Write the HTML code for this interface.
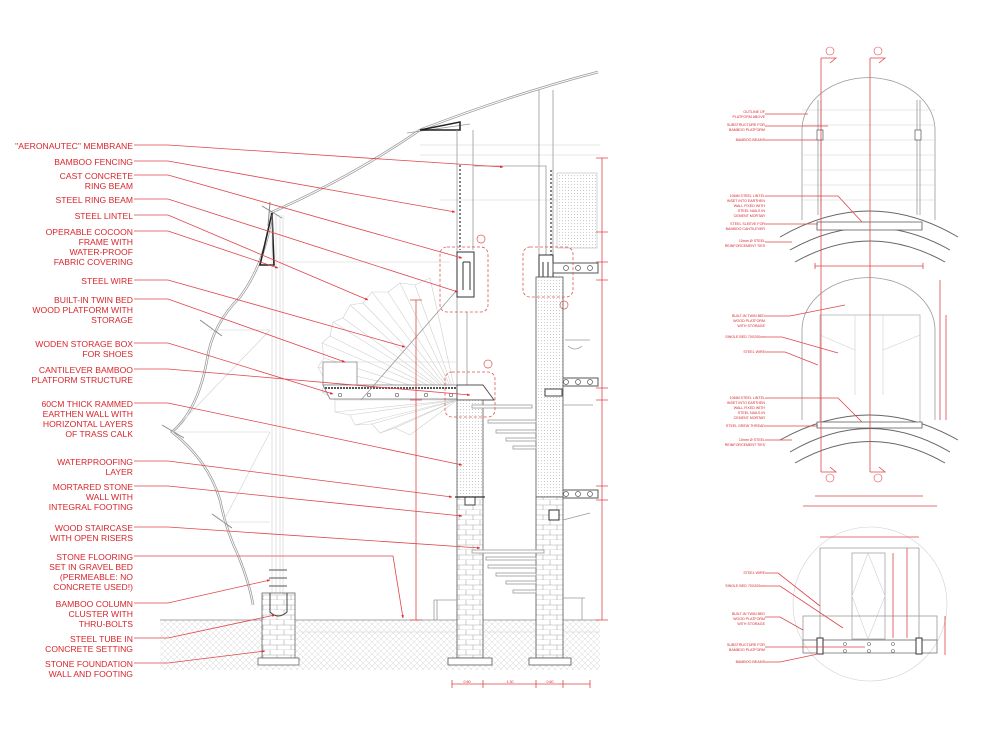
<!DOCTYPE html>
<html><head><meta charset="utf-8"><style>
html,body{margin:0;padding:0;background:#fff}
svg{display:block}
.l{font-family:"Liberation Sans",sans-serif;font-size:8.6px;fill:#d8252b;text-anchor:end}
.s{font-family:"Liberation Sans",sans-serif;font-size:3.6px;fill:#d8252b;text-anchor:end}
.r{stroke:#e0454a;stroke-width:0.8;fill:none}
.g{stroke:#9a9a9a;stroke-width:0.8;fill:none}
.gl{stroke:#cfcfcf;stroke-width:0.6;fill:none}
.k{stroke:#444;stroke-width:1;fill:none}
</style></head><body>
<svg width="1000" height="733" viewBox="0 0 1000 733" xmlns="http://www.w3.org/2000/svg">
<defs>
<pattern id="hat" width="6" height="6" patternUnits="userSpaceOnUse"><path d="M0 6L6 0M0 0L6 6" stroke="#d6d6d6" stroke-width="0.5"/></pattern>
<pattern id="brk" width="14" height="10" patternUnits="userSpaceOnUse"><rect width="14" height="10" fill="#fff"/><path d="M0 5H14M0 10H14M4 0V5M11 5V10" stroke="#aaa" stroke-width="0.6"/></pattern>
<pattern id="dot" width="3" height="3" patternUnits="userSpaceOnUse"><rect width="3" height="3" fill="#fff"/><circle cx="1.5" cy="1.5" r="0.5" fill="#bbb"/></pattern>
<marker id="a" viewBox="0 0 10 10" refX="9" refY="5" markerWidth="5" markerHeight="4" orient="auto"><path d="M0 1L10 5L0 9z" fill="#e0252b"/></marker>
</defs>

<!-- ground -->
<rect x="160" y="620" width="440" height="50" fill="url(#hat)"/>
<line x1="160" y1="620" x2="600" y2="620" stroke="#888" stroke-width="0.8"/>
<line x1="300" y1="632" x2="600" y2="632" class="gl"/>

<!-- spiral stair fan -->
<g class="gl">
<path d="M430 278 L415 285 L400 283 L388 292 L372 292 L363 303 L350 305 L343 318 L333 322 L330 336 L322 343 L324 358 L318 367 L325 380 L322 392 L335 400 L335 412 L350 415 L355 425 L372 424 L380 433 L395 428 L410 435"/>
<path d="M457 400L430 278M457 400L400 283M457 400L372 292M457 400L350 305M457 400L333 322M457 400L322 343M457 400L318 367M457 400L322 392M457 400L335 412M457 400L355 425M457 400L380 433M457 400L410 435M457 400L415 285M457 400L388 292M457 400L363 303M457 400L343 318M457 400L330 336M457 400L324 358M457 400L325 380M457 400L335 400M457 400L350 415M457 400L372 424M457 400L395 428"/>
</g>

<!-- roof membrane -->
<path d="M270 213 Q350 178 420 130 Q510 95 598 72" stroke="#999" stroke-width="2.5" fill="none"/>
<path d="M270 213 Q350 178 420 130 Q510 95 598 72" stroke="#fff" stroke-width="1" fill="none"/>
<path d="M407 133 L470 124" class="g"/>
<path d="M420 130 L460 122 L460 130 Z" stroke="#222" stroke-width="1.5" fill="none"/>
<!-- cocoon -->
<path id="cc" d="M272 215 Q264 265 240 297 Q212 325 207 360 Q198 410 172 432 Q208 460 220 500 Q226 530 238 555 Q250 585 253 605" stroke="#999" stroke-width="2.5" fill="none"/>
<path d="M272 215 Q264 265 240 297 Q212 325 207 360 Q198 410 172 432 Q208 460 220 500 Q226 530 238 555 Q250 585 253 605" stroke="#fff" stroke-width="1" fill="none"/>
<path d="M272 213 L260 265 L274 265 Z" stroke="#222" stroke-width="1.6" fill="none"/>
<path d="M262 206L282 218M270 202L268 226M200 320L222 336M162 425L184 438M212 514L232 528" stroke="#888" stroke-width="1"/>
<path d="M172 432H270M223 522H270M210 330H270M172 432L270 330M223 522L270 432" class="gl"/>
<!-- bamboo column -->
<path d="M272 215V595M276 215V595M280 215V595M283 215V595" class="gl"/>
<path d="M269 570H287M269 578H287M269 586H287" stroke="#555" stroke-width="1"/>
<rect x="262" y="593" width="33" height="65" fill="url(#brk)" stroke="#666" stroke-width="0.8"/>
<path d="M270 593V612Q278 620 287 612V593" class="k"/>
<rect x="258" y="658" width="41" height="7" fill="#fff" stroke="#666" stroke-width="0.8"/>

<!-- upper frames -->
<path d="M420 145H600M420 155H600M440 200H560M280 262H450" class="gl"/>
<!-- column1 -->
<path d="M457 130V400M473 130V250M467 312V385" class="g"/>
<path d="M460 165V250" stroke="#333" stroke-width="1.2" stroke-dasharray="2 2"/>
<path d="M474 166H546V265" class="g"/>
<rect x="457" y="252" width="17" height="45" fill="#fff" stroke="#333" stroke-width="1"/>
<path d="M463 262V290M470 262V290M463 262H470" stroke="#333" stroke-width="1"/>
<!-- column2 -->
<path d="M539 90V265M553 90V265" class="g"/>
<path d="M551 170V255" stroke="#333" stroke-width="1.2" stroke-dasharray="2 2"/>
<rect x="557" y="173" width="40" height="75" fill="url(#dot)" stroke="#bbb" stroke-width="0.6"/>
<rect x="539" y="255" width="14" height="22" fill="#fff" stroke="#333"/>
<path d="M543 262V285M548 262V285" stroke="#333"/>
<rect x="553" y="263" width="45" height="10" fill="#fff" stroke="#555"/>
<g fill="none" stroke="#555" stroke-width="0.7"><circle cx="566" cy="268" r="2.5"/><circle cx="578" cy="268" r="2.5"/><circle cx="590" cy="268" r="2.5"/></g>
<rect x="553" y="378" width="45" height="8" fill="#fff" stroke="#555"/>
<g fill="none" stroke="#555" stroke-width="0.7"><circle cx="566" cy="382" r="2.5"/><circle cx="578" cy="382" r="2.5"/><circle cx="590" cy="382" r="2.5"/></g>
<rect x="553" y="490" width="45" height="8" fill="#fff" stroke="#555"/>
<g fill="none" stroke="#555" stroke-width="0.7"><circle cx="566" cy="494" r="2.5"/><circle cx="578" cy="494" r="2.5"/><circle cx="590" cy="494" r="2.5"/></g>
<path d="M565 340H590M568 346Q575 352 582 346" class="g"/>

<!-- platform -->
<rect x="323" y="362" width="34" height="23" fill="#fff" stroke="#888" stroke-width="0.8"/>
<path d="M357 362H457" class="gl"/>
<path d="M323 385H457V399H330Z" fill="#fff" stroke="#777" stroke-width="0.8"/>
<path d="M325 388H457" stroke="#555" stroke-width="2" stroke-dasharray="2 1"/>
<g fill="none" stroke="#666" stroke-width="0.7"><circle cx="340" cy="395" r="1.7"/><circle cx="369" cy="395" r="1.7"/><circle cx="397" cy="395" r="1.7"/><circle cx="426" cy="395" r="1.7"/><circle cx="451" cy="395" r="1.7"/></g>
<path d="M361 400L457 290" class="g"/>
<path d="M457 385H483L494 400H457Z" fill="#fff" stroke="#555"/>

<!-- piers -->
<rect x="457" y="400" width="26" height="97" fill="url(#dot)" stroke="#555" stroke-width="0.8"/>
<rect x="457" y="497" width="26" height="161" fill="url(#brk)" stroke="#555" stroke-width="0.8"/>
<rect x="448" y="658" width="44" height="7" fill="#fff" stroke="#555" stroke-width="0.8"/>
<rect x="536" y="277" width="27" height="220" fill="url(#dot)" stroke="#555" stroke-width="0.8"/>
<rect x="536" y="497" width="27" height="161" fill="url(#brk)" stroke="#555" stroke-width="0.8"/>
<rect x="529" y="658" width="42" height="7" fill="#fff" stroke="#555" stroke-width="0.8"/>
<rect x="545" y="389" width="17" height="7" fill="#fff" stroke="#444"/>
<rect x="465" y="497" width="10" height="8" fill="#fff" stroke="#444"/>
<path d="M455 497L485 497" stroke="#333" stroke-width="1.2"/>
<rect x="549" y="510" width="10" height="10" fill="#fff" stroke="#333"/>
<!-- stairs -->
<g stroke="#999" stroke-width="0.8" fill="#fff">
<rect x="472" y="405" width="60" height="3"/><rect x="488" y="420" width="48" height="3"/><rect x="496" y="430" width="40" height="3"/><rect x="506" y="438" width="30" height="3"/><rect x="513" y="446" width="23" height="3"/>
<rect x="472" y="550" width="72" height="3"/><rect x="486" y="557" width="50" height="3"/><rect x="488" y="565" width="48" height="3"/><rect x="496" y="573" width="40" height="3"/><rect x="506" y="581" width="30" height="3"/><rect x="513" y="590" width="23" height="3"/>
</g>
<path d="M563 405H593M563 520L590 513" class="g"/>
<path d="M434 600H457M434 600V620M437 600V620M563 598H585M582 598V620" class="g"/>

<!-- detail bubbles -->
<g stroke="#e05458" stroke-width="0.8" fill="none" stroke-dasharray="3 2">
<rect x="440" y="247" width="48" height="65" rx="7"/><rect x="523" y="247" width="50" height="50" rx="7"/><rect x="445" y="372" width="50" height="45" rx="7"/>
</g>
<g fill="none" stroke="#e05458" stroke-width="0.7"><circle cx="481" cy="239" r="4"/><circle cx="564" cy="305" r="4"/><circle cx="488" cy="364" r="4"/></g>
<!-- dims -->
<path d="M602 158V620M596 158H608M596 232H608M596 262H608M596 280H608M596 388H608M596 400H608M596 486H608M596 500H608M596 620H608" class="r"/>
<path d="M416 300V620M410 300H422M410 400H422M410 620H422" class="r"/>
<path d="M452 684H590M452 680V688M483 680V688M536 680V688M563 680V688M590 680V688" class="r"/>
<text x="467" y="683" class="s" style="text-anchor:middle">0.60</text>
<text x="510" y="683" class="s" style="text-anchor:middle">1.30</text>
<text x="550" y="683" class="s" style="text-anchor:middle">0.60</text>

<!-- labels & leaders -->
<g class="r">
<path d="M134 145H168L503 167" marker-end="url(#a)"/>
<path d="M134 161H168L455 212" marker-end="url(#a)"/>
<path d="M134 175H168L462 258" marker-end="url(#a)"/>
<path d="M134 199H168L458 292" marker-end="url(#a)"/>
<path d="M134 215H168L368 300" marker-end="url(#a)"/>
<path d="M134 231H168L278 268" marker-end="url(#a)"/>
<path d="M134 280H168L405 347" marker-end="url(#a)"/>
<path d="M134 299H168L345 362" marker-end="url(#a)"/>
<path d="M134 343H168L333 394" marker-end="url(#a)"/>
<path d="M134 369H168L470 395" marker-end="url(#a)"/>
<path d="M134 403H168L462 465" marker-end="url(#a)"/>
<path d="M134 461H168L452 497" marker-end="url(#a)"/>
<path d="M134 486H168L462 516" marker-end="url(#a)"/>
<path d="M134 527H168L480 548" marker-end="url(#a)"/>
<path d="M134 556H393L403 618" marker-end="url(#a)"/>
<path d="M134 603H168L270 580" marker-end="url(#a)"/>
<path d="M134 638H168L275 615" marker-end="url(#a)"/>
<path d="M134 663H168L265 651" marker-end="url(#a)"/>
</g>
<g class="l">
<text x="133" y="149">"AERONAUTEC" MEMBRANE</text>
<text x="133" y="165">BAMBOO FENCING</text>
<text x="133" y="179">CAST CONCRETE</text><text x="133" y="189">RING BEAM</text>
<text x="133" y="203">STEEL RING BEAM</text>
<text x="133" y="219">STEEL LINTEL</text>
<text x="133" y="235">OPERABLE COCOON</text><text x="133" y="245">FRAME WITH</text><text x="133" y="255">WATER-PROOF</text><text x="133" y="265">FABRIC COVERING</text>
<text x="133" y="284">STEEL WIRE</text>
<text x="133" y="303">BUILT-IN TWIN BED</text><text x="133" y="313">WOOD PLATFORM WITH</text><text x="133" y="323">STORAGE</text>
<text x="133" y="347">WODEN STORAGE BOX</text><text x="133" y="357">FOR SHOES</text>
<text x="133" y="373">CANTILEVER BAMBOO</text><text x="133" y="383">PLATFORM STRUCTURE</text>
<text x="133" y="407">60CM THICK RAMMED</text><text x="133" y="417">EARTHEN WALL WITH</text><text x="133" y="427">HORIZONTAL LAYERS</text><text x="133" y="437">OF TRASS CALK</text>
<text x="133" y="465">WATERPROOFING</text><text x="133" y="475">LAYER</text>
<text x="133" y="490">MORTARED STONE</text><text x="133" y="500">WALL WITH</text><text x="133" y="510">INTEGRAL FOOTING</text>
<text x="133" y="531">WOOD STAIRCASE</text><text x="133" y="541">WITH OPEN RISERS</text>
<text x="133" y="560">STONE FLOORING</text><text x="133" y="570">SET IN GRAVEL BED</text><text x="133" y="580">(PERMEABLE: NO</text><text x="133" y="590">CONCRETE USED!)</text>
<text x="133" y="607">BAMBOO COLUMN</text><text x="133" y="617">CLUSTER WITH</text><text x="133" y="627">THRU-BOLTS</text>
<text x="133" y="642">STEEL TUBE IN</text><text x="133" y="652">CONCRETE SETTING</text>
<text x="133" y="667">STONE FOUNDATION</text><text x="133" y="677">WALL AND FOOTING</text>
</g>

<!-- RIGHT: plan 1 -->
<path d="M802 220V130A66 52 0 0 1 935 130V220" class="g"/>
<g class="gl"><path d="M802 110H935M802 125H935M802 140H935M802 155H935M802 170H935M802 185H935M802 200H935"/></g>
<path d="M821 100V215M818 100V215M917 100V215M920 100V215" class="g"/>
<rect x="817" y="130" width="6" height="10" fill="#fff" stroke="#555" stroke-width="0.7"/>
<rect x="915" y="130" width="6" height="10" fill="#fff" stroke="#555" stroke-width="0.7"/>
<path d="M780 237Q870 185 958 237M790 250Q870 205 950 250M795 262Q870 220 945 262" stroke="#666" stroke-width="1" fill="none"/>
<path d="M817 222H922V230H817Z" fill="#fff" stroke="#555" stroke-width="0.8"/>
<!-- plan 2 -->
<path d="M802 420V330A66 52 0 0 1 935 330V420" class="g"/>
<rect x="820" y="315" width="100" height="110" fill="none" stroke="#aaa" stroke-width="0.7"/>
<path d="M855 315V395M883 315V395M820 335L855 350M920 335L883 350" class="gl"/>
<path d="M780 440Q870 390 958 440M790 452Q870 405 950 452M795 463Q870 420 945 463" stroke="#666" stroke-width="1" fill="none"/>
<path d="M817 422H922V428H817Z" fill="#fff" stroke="#555" stroke-width="0.8"/>
<!-- section lines C D -->
<path d="M821 58V472M870 58V472" stroke="#e0454a" stroke-width="0.8"/>
<path d="M821 58H836L830 63M870 58H885L879 63M821 472H836L830 467M870 472H885L879 467" class="r"/>
<g fill="none" stroke="#e0454a" stroke-width="0.6"><circle cx="830" cy="51" r="4"/><circle cx="878" cy="51" r="4"/><circle cx="830" cy="478" r="4"/><circle cx="878" cy="478" r="4"/></g>
<path d="M815 266H923M815 263V269M923 263V269M940 280V420M946 315V420M815 496H923M803 506H937" class="r"/>
<!-- plan 3 -->
<circle cx="870" cy="604" r="77" class="gl"/>
<path d="M820 548H919M820 548V640M919 548V640" class="g"/>
<rect x="852" y="553" width="33" height="86" fill="none" stroke="#999" stroke-width="0.7"/>
<path d="M852 596L868 553L885 596L868 639Z" class="gl"/>
<rect x="803" y="616" width="134" height="24" fill="none" stroke="#999" stroke-width="0.8"/>
<rect x="803" y="640" width="134" height="13" fill="none" stroke="#777" stroke-width="0.8"/>
<rect x="817" y="638" width="6" height="16" fill="#fff" stroke="#333"/>
<rect x="916" y="638" width="6" height="16" fill="#fff" stroke="#333"/>
<g fill="none" stroke="#666" stroke-width="0.6"><circle cx="845" cy="644" r="1.5"/><circle cx="869" cy="644" r="1.5"/><circle cx="893" cy="644" r="1.5"/><circle cx="845" cy="651" r="1.5"/><circle cx="869" cy="651" r="1.5"/><circle cx="893" cy="651" r="1.5"/></g>
<path d="M820 537H919M893 553V638M907 548V638M945 616V655" class="r"/>
<!-- right labels -->
<g class="r" stroke-width="0.5">
<path d="M765 114H808M765 126H828M765 140H818M765 196H838L862 222M765 224H818M765 242H792M765 316H790L845 305M765 337H782L838 353M765 352H785L818 365M765 398H838L862 422M765 426H818M765 440H792M765 573H778L820 606M765 586H780L843 628M765 617H780L803 630M765 647H865M765 662H780L818 654"/>
</g>
<g class="s">
<text x="765" y="113">OUTLINE OF</text><text x="765" y="118">PLATFORM ABOVE</text>
<text x="765" y="126">SUBSTRUCTURE FOR</text><text x="765" y="131">BAMBOO PLATFORM</text>
<text x="765" y="141">BAMBOO BEAMS</text>
<text x="765" y="197">10MM STEEL LINTEL</text><text x="765" y="202">INSET INTO EARTHEN</text><text x="765" y="207">WALL FIXED WITH</text><text x="765" y="212">STEEL NAILS IN</text><text x="765" y="217">CEMENT MORTAR</text>
<text x="765" y="225">STEEL SLEEVE FOR</text><text x="765" y="230">BAMBOO CANTILEVER</text>
<text x="765" y="242">10mm Ø STEEL</text><text x="765" y="247">REINFORCEMENT TIES</text>
<text x="765" y="317">BUILT-IN TWIN BED</text><text x="765" y="322">WOOD PLATFORM</text><text x="765" y="327">WITH STORAGE</text>
<text x="765" y="338">SINGLE BED 70X200cm</text>
<text x="765" y="353">STEEL WIRE</text>
<text x="765" y="399">10MM STEEL LINTEL</text><text x="765" y="404">INSET INTO EARTHEN</text><text x="765" y="409">WALL FIXED WITH</text><text x="765" y="414">STEEL NAILS IN</text><text x="765" y="419">CEMENT MORTAR</text>
<text x="765" y="427">STEEL GREW THREAD</text>
<text x="765" y="441">10mm Ø STEEL</text><text x="765" y="446">REINFORCEMENT TIES</text>
<text x="765" y="574">STEEL WIRE</text>
<text x="765" y="587">SINGLE BED 70X200cm</text>
<text x="765" y="615">BUILT-IN TWIN BED</text><text x="765" y="620">WOOD PLATFORM</text><text x="765" y="625">WITH STORAGE</text>
<text x="765" y="646">SUBSTRUCTURE FOR</text><text x="765" y="651">BAMBOO PLATFORM</text>
<text x="765" y="663">BAMBOO BEAMS</text>
</g>
</svg>
</body></html>
